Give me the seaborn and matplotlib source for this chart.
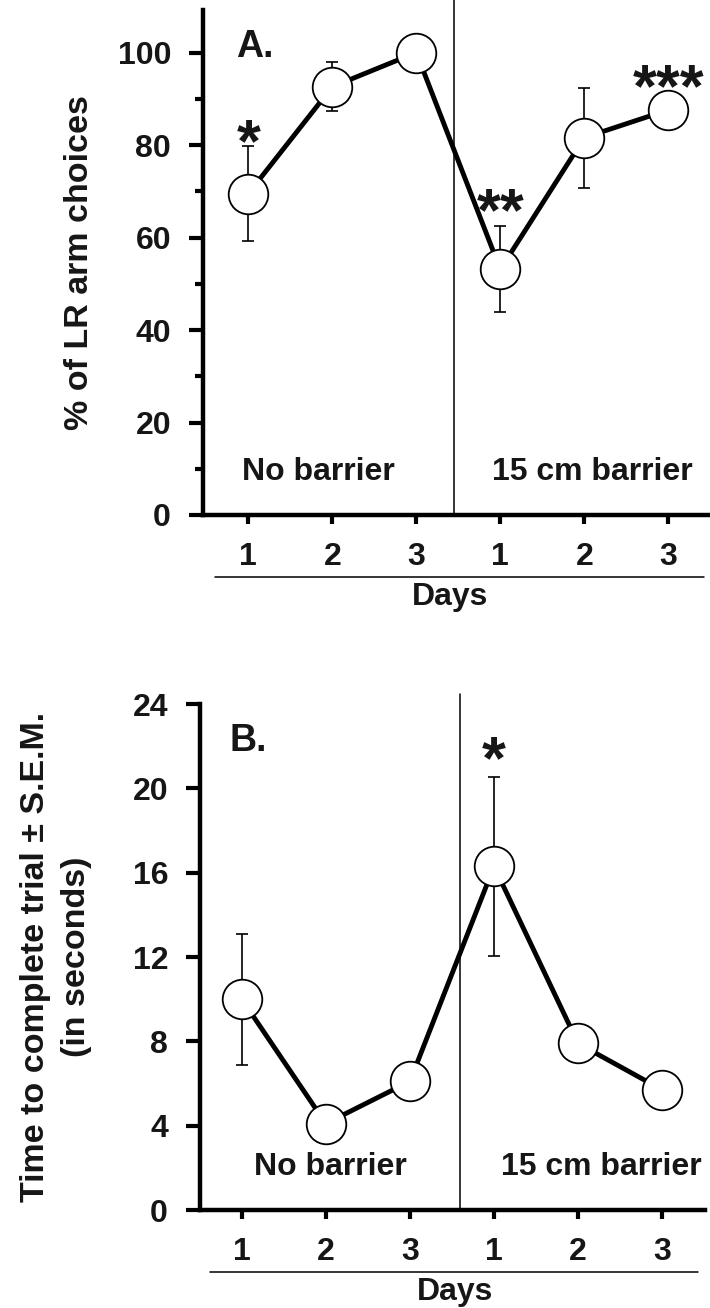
import numpy as np
import pandas as pd
import matplotlib
matplotlib.use("Agg")
import matplotlib.pyplot as plt
from matplotlib.ticker import MultipleLocator
import seaborn as sns

# ---------------- data ----------------
day_labels = ["1", "2", "3", "1", "2", "3"]
phase_labels = ["No barrier", "15 cm barrier"]

lr_mean = [69.5, 92.6, 100.0, 53.1, 81.6, 87.6]
lr_sem = [10.2, 5.3, 0.0, 9.3, 10.8, 0.0]
lr_stars = ["*", "", "", "**", "", "***"]
lr_star_y = [84.0, None, None, 69.0, None, 95.9]

time_mean = [10.0, 4.1, 6.1, 16.3, 7.9, 5.7]
time_sem = [3.1, 0.0, 0.0, 4.25, 0.0, 0.0]
time_stars = ["", "", "", "*", "", ""]
time_star_y = [None, None, None, 22.1, None, None]

# ---------------- style ----------------
sns.set_theme(style="ticks")
plt.rcParams["font.family"] = ["Liberation Sans", "DejaVu Sans"]
plt.rcParams["font.weight"] = "bold"
plt.rcParams["axes.labelweight"] = "bold"
TXT = "#161616"

fig = plt.figure(figsize=(7.1, 13.08), dpi=100)
W, H = 710.0, 1308.0
ax_a = fig.add_axes([203 / W, 1 - 515 / H, 507 / W, 505 / H])
ax_b = fig.add_axes([200 / W, 1 - 1210 / H, 505 / W, 506 / H])


def cap_text(ax, x, y, s, fs, ha="center", frac=0.358):
    ax.annotate(s, (x, y), xytext=(0, -frac * fs), textcoords="offset points",
                ha=ha, va="baseline", fontsize=fs, fontweight="bold",
                color=TXT, annotation_clip=False)


def draw_panel(ax, mean, sem, stars, star_y, xlim, ylim, major, minor,
               divider_x, ylabel, letter, letter_y, phase_x, phase_y,
               days_x, line_x):
    pos = np.arange(len(mean))
    df = pd.DataFrame({"pos": pos, "mean": mean, "sem": sem})
    ax.errorbar(df["pos"], df["mean"], yerr=df["sem"], fmt="none",
                ecolor="black", elinewidth=1.2, capsize=4.5, capthick=1.2,
                zorder=2)
    sns.lineplot(data=df, x="pos", y="mean", ax=ax, color="black",
                 linewidth=3.5, marker="o", markersize=28.5,
                 markerfacecolor="white", markeredgecolor="black",
                 markeredgewidth=1.3, zorder=3, clip_on=False)
    ax.axvline(divider_x, ymin=0, ymax=1.02, color="black", lw=1.1,
               zorder=1, clip_on=False)

    for p, s, sy in zip(pos, stars, star_y):
        if s:
            cap_text(ax, p, sy, s, 44, frac=0.56)

    ax.set_xlim(*xlim)
    ax.set_ylim(*ylim)
    ax.set_xticks(pos)
    ax.set_xticklabels(day_labels)
    ax.yaxis.set_major_locator(MultipleLocator(major))
    if minor:
        ax.yaxis.set_minor_locator(MultipleLocator(minor))

    sns.despine(ax=ax)
    for sp in ("left", "bottom"):
        ax.spines[sp].set_linewidth(3.2)
        ax.spines[sp].set_color("black")
    ax.tick_params(axis="y", which="major", length=10, width=3, pad=13,
                   labelsize=23, colors="black", labelcolor=TXT)
    ax.tick_params(axis="y", which="minor", length=6, width=3,
                   colors="black")
    ax.tick_params(axis="x", which="major", length=6.5, width=3, pad=13,
                   labelsize=23, colors="black", labelcolor=TXT)

    ax.set_xlabel("Days", fontsize=23, color=TXT)
    ax.xaxis.set_label_coords(days_x, -0.162)
    ax.xaxis.label.set_va("center")
    ax.plot(line_x, [-0.122, -0.122], transform=ax.get_xaxis_transform(),
            color="black", lw=1.1, clip_on=False)

    ax.set_ylabel(ylabel, fontsize=24.5, color=TXT)
    ax.yaxis.label.set_va("center")
    ax.yaxis.label.set_linespacing(1.45)

    cap_text(ax, -0.146, letter_y, letter, 27, ha="left")
    for px, name in zip(phase_x, phase_labels):
        cap_text(ax, px, phase_y, name, 23)
    ax.set_facecolor("white")


draw_panel(ax_a, lr_mean, lr_sem, lr_stars, lr_star_y,
           xlim=(-0.539, 5.496), ylim=(0, 109.2), major=20, minor=10,
           divider_x=2.45, ylabel="% of LR arm choices", letter="A.",
           letter_y=101.9, phase_x=(0.83, 4.10), phase_y=10.0,
           days_x=0.487, line_x=[-0.40, 5.43])
ax_a.yaxis.set_label_coords(-0.2445, 0.5)

draw_panel(ax_b, time_mean, time_sem, time_stars, time_star_y,
           xlim=(-0.496, 5.509), ylim=(0, 24), major=4, minor=None,
           divider_x=2.6,
           ylabel="Time to complete trial \u00b1 S.E.M.\n(in seconds)",
           letter="B.", letter_y=22.4, phase_x=(1.05, 4.28), phase_y=2.2,
           days_x=0.505, line_x=[-0.38, 5.42])
ax_b.yaxis.set_label_coords(-0.285, 0.5)

fig.savefig("out.png", dpi=100, facecolor="white")
